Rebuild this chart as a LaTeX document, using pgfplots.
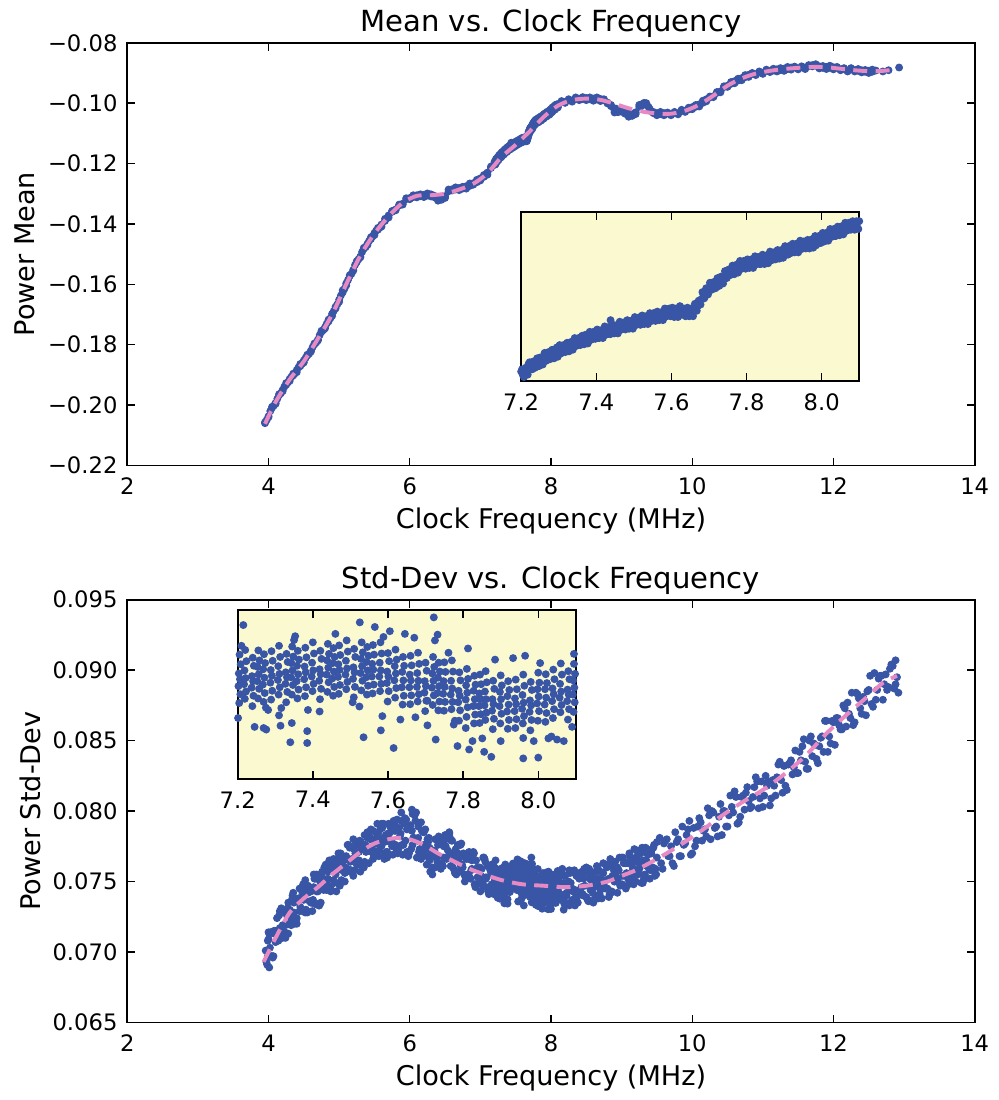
\documentclass[border=0pt]{standalone}
\usepackage{fontspec}
\setmainfont{DejaVu Sans}
\usepackage{pgfplots}
\usepackage{pgfplotstable}
\pgfplotsset{compat=1.18}

\definecolor{dotblue}{RGB}{57,85,165}
\definecolor{fitpink}{RGB}{231,138,195}
\definecolor{insetbg}{RGB}{250,249,207}

\pgfplotsset{
  base/.style={scale only axis, clip mode=individual,
    axis line style={black, line width=0.6pt},
    tick style={black, line width=0.5pt},
    major tick length=2.8pt,
    tick label style={font=\fontsize{8.1}{9}\selectfont},
    /pgf/number format/assume math mode=true,
    scaled y ticks=false,
    xticklabel style={yshift=-1pt}},
  panel/.style={base, width=10.65cm, height=5.3125cm,
    xmin=2, xmax=14, xtick={2,4,6,8,10,12,14},
    xlabel={Clock Frequency (MHz)},
    label style={font=\fontsize{9.7}{11}\selectfont},
    xlabel style={at={(axis description cs:0.5,0)}, anchor=base, yshift=-22.4pt},
    every axis title shift=0pt,
    title style={font=\fontsize{10.4}{12}\selectfont, at={(axis description cs:0.5,1)}, anchor=base, yshift=3.9pt}},
  inset/.style={base, width=4.25cm, height=2.125cm,
    xmin=7.2, xmax=8.1, xtick={7.2,7.4,7.6,7.8,8.0},
    xticklabels={7.2,7.4,7.6,7.8,8.0}, ytick=\empty,
    axis background/.style={fill=insetbg}},
  dots/.style={only marks, mark=*, mark size=1.2pt, color=dotblue,
    mark options={draw=dotblue, fill=dotblue}},
  fit/.style={no marks, color=fitpink, line width=1.4pt, dash pattern=on 5pt off 3pt, smooth},
}

% mean: measurements outside the zoomed window
\pgfplotstableread[row sep=\\]{
x y\\
3.95 -0.2060\\ 4.00 -0.2037\\ 4.05 -0.2009\\ 4.10 -0.1993\\ 4.15 -0.1967\\ 4.20 -0.1950\\
4.25 -0.1933\\ 4.30 -0.1913\\ 4.35 -0.1902\\ 4.40 -0.1884\\ 4.45 -0.1871\\ 4.50 -0.1852\\
4.55 -0.1836\\ 4.60 -0.1820\\ 4.65 -0.1799\\ 4.70 -0.1783\\ 4.75 -0.1757\\ 4.80 -0.1742\\
4.85 -0.1723\\ 4.90 -0.1698\\ 4.95 -0.1680\\ 5.00 -0.1651\\ 5.05 -0.1627\\ 5.10 -0.1597\\
5.15 -0.1573\\ 5.20 -0.1552\\ 5.25 -0.1526\\ 5.30 -0.1508\\ 5.35 -0.1482\\ 5.40 -0.1466\\
5.45 -0.1450\\ 5.50 -0.1430\\ 5.55 -0.1419\\ 5.60 -0.1402\\ 5.65 -0.1390\\ 5.70 -0.1372\\
5.75 -0.1360\\ 5.80 -0.1352\\ 5.85 -0.1339\\ 5.90 -0.1333\\ 5.95 -0.1318\\ 6.00 -0.1314\\
6.05 -0.1311\\ 6.10 -0.1305\\ 6.15 -0.1308\\ 6.20 -0.1304\\ 6.25 -0.1306\\ 6.30 -0.1302\\
6.35 -0.1312\\ 6.40 -0.1318\\ 6.45 -0.1320\\ 6.50 -0.1308\\ 6.55 -0.1292\\ 6.60 -0.1285\\
6.65 -0.1286\\ 6.70 -0.1281\\ 6.75 -0.1283\\ 6.80 -0.1275\\ 6.85 -0.1274\\ 6.90 -0.1265\\
6.95 -0.1262\\ 7.00 -0.1249\\ 7.05 -0.1244\\ 7.10 -0.1230\\ 7.15 -0.1215\\
3.975 -0.2049\\ 4.025 -0.2020\\ 4.075 -0.2002\\ 4.125 -0.1979\\ 4.175 -0.1961\\ 4.225 -0.1939\\
4.275 -0.1925\\ 4.325 -0.1906\\ 4.375 -0.1895\\ 4.425 -0.1875\\ 4.475 -0.1863\\ 4.525 -0.1844\\
4.575 -0.1830\\ 4.625 -0.1808\\ 4.675 -0.1793\\ 4.725 -0.1768\\ 4.775 -0.1752\\ 4.825 -0.1730\\
4.875 -0.1713\\ 4.925 -0.1688\\ 4.975 -0.1666\\ 5.025 -0.1637\\ 5.075 -0.1615\\ 5.125 -0.1586\\
5.175 -0.1565\\ 5.225 -0.1536\\ 5.275 -0.1517\\ 5.325 -0.1493\\ 5.375 -0.1477\\ 5.425 -0.1456\\
5.475 -0.1441\\ 5.525 -0.1422\\ 5.575 -0.1412\\
3.95 -0.2057\\ 4.00 -0.2040\\ 4.05 -0.2006\\ 4.10 -0.1996\\ 4.15 -0.1964\\ 4.20 -0.1954\\
4.25 -0.1927\\ 4.30 -0.1920\\ 4.35 -0.1896\\ 4.40 -0.1891\\ 4.45 -0.1864\\ 4.50 -0.1859\\
4.55 -0.1833\\ 4.60 -0.1823\\ 4.65 -0.1796\\ 4.70 -0.1786\\ 4.75 -0.1754\\ 4.80 -0.1746\\
4.85 -0.1717\\ 4.90 -0.1705\\ 4.95 -0.1674\\ 5.00 -0.1658\\ 5.05 -0.1620\\ 5.10 -0.1604\\
5.15 -0.1570\\ 5.20 -0.1555\\ 5.25 -0.1523\\ 5.30 -0.1511\\ 5.35 -0.1479\\ 5.40 -0.1470\\
5.45 -0.1444\\ 5.50 -0.1437\\ 5.55 -0.1413\\ 5.60 -0.1409\\ 5.65 -0.1383\\ 5.70 -0.1379\\
5.75 -0.1357\\ 5.80 -0.1355\\ 5.85 -0.1336\\ 5.90 -0.1336\\ 5.95 -0.1315\\ 6.00 -0.1318\\
6.05 -0.1305\\ 6.10 -0.1312\\ 6.15 -0.1302\\ 6.20 -0.1311\\ 6.25 -0.1299\\ 6.30 -0.1309\\
6.35 -0.1307\\ 6.40 -0.1323\\ 6.45 -0.1316\\ 6.50 -0.1314\\ 6.55 -0.1286\\ 6.60 -0.1289\\
6.65 -0.1279\\ 6.70 -0.1288\\ 6.75 -0.1277\\ 6.80 -0.1283\\ 6.85 -0.1266\\ 6.90 -0.1270\\
6.95 -0.1254\\ 7.00 -0.1256\\ 7.05 -0.1238\\ 7.10 -0.1237\\ 7.15 -0.1210\\
8.15 -0.0996\\ 8.20 -0.0996\\ 8.25 -0.0990\\ 8.30 -0.0992\\ 8.35 -0.0984\\ 8.40 -0.0986\\
8.45 -0.0986\\ 8.50 -0.0983\\ 8.55 -0.0987\\ 8.60 -0.0985\\ 8.65 -0.0988\\ 8.70 -0.0986\\
8.75 -0.0990\\ 8.80 -0.0998\\ 8.85 -0.1010\\ 8.90 -0.1025\\ 8.95 -0.1030\\ 9.00 -0.1022\\
9.05 -0.1035\\ 9.10 -0.1040\\ 9.15 -0.1042\\ 9.20 -0.1030\\ 9.25 -0.1012\\ 9.30 -0.1002\\
9.35 -0.1005\\ 9.40 -0.1020\\ 9.45 -0.1033\\ 9.50 -0.1033\\ 9.55 -0.1036\\ 9.60 -0.1033\\
9.65 -0.1034\\ 9.70 -0.1037\\ 9.75 -0.1032\\ 9.80 -0.1034\\ 9.85 -0.1025\\ 9.90 -0.1025\\
9.95 -0.1021\\ 10.00 -0.1013\\ 10.05 -0.1012\\ 10.10 -0.1004\\ 10.15 -0.0999\\ 10.20 -0.0987\\
10.25 -0.0981\\ 10.30 -0.0977\\ 10.35 -0.0966\\ 10.40 -0.0961\\ 10.45 -0.0947\\ 10.50 -0.0942\\
10.55 -0.0936\\ 10.60 -0.0927\\ 10.65 -0.0925\\ 10.70 -0.0917\\ 10.75 -0.0914\\ 10.80 -0.0906\\
10.85 -0.0903\\ 10.90 -0.0904\\ 10.95 -0.0898\\ 11.00 -0.0900\\ 11.05 -0.0892\\ 11.10 -0.0893\\
11.15 -0.0892\\ 11.20 -0.0888\\ 11.25 -0.0890\\ 11.30 -0.0886\\ 11.35 -0.0887\\ 11.40 -0.0882\\
11.45 -0.0882\\ 11.50 -0.0885\\ 11.55 -0.0881\\ 11.60 -0.0884\\ 11.65 -0.0877\\ 11.70 -0.0874\\
11.75 -0.0876\\ 11.80 -0.0878\\ 11.85 -0.0883\\ 11.90 -0.0880\\ 11.95 -0.0883\\ 12.00 -0.0881\\
12.05 -0.0883\\ 12.10 -0.0888\\ 12.15 -0.0887\\ 12.20 -0.0892\\ 12.25 -0.0887\\ 12.30 -0.0891\\
12.35 -0.0893\\ 12.40 -0.0891\\ 12.45 -0.0896\\ 12.50 -0.0893\\ 12.55 -0.0896\\ 12.60 -0.0892\\
12.70 -0.0895\\ 12.78 -0.0891\\ 12.93 -0.0882\\
8.92 -0.1018\\ 9.02 -0.1030\\ 9.12 -0.1033\\ 9.28 -0.1010\\ 9.32 -0.0999\\ 9.38 -0.1012\\
8.15 -0.0993\\ 8.20 -0.0999\\ 8.25 -0.0987\\ 8.30 -0.0995\\ 8.35 -0.0981\\ 8.40 -0.0990\\
8.45 -0.0980\\ 8.50 -0.0990\\ 8.55 -0.0981\\ 8.60 -0.0992\\ 8.65 -0.0981\\ 8.70 -0.0993\\
8.75 -0.0987\\ 8.80 -0.1001\\ 8.85 -0.1006\\ 8.90 -0.1031\\ 8.95 -0.1024\\ 9.00 -0.1026\\
9.05 -0.1030\\ 9.10 -0.1045\\ 9.15 -0.1038\\ 9.20 -0.1036\\ 9.25 -0.1006\\ 9.30 -0.1006\\
9.35 -0.1000\\ 9.40 -0.1025\\ 9.45 -0.1029\\ 9.50 -0.1040\\ 9.55 -0.1029\\ 9.60 -0.1040\\
9.65 -0.1031\\ 9.70 -0.1040\\ 9.75 -0.1029\\ 9.80 -0.1037\\ 9.85 -0.1022\\ 9.90 -0.1029\\
9.95 -0.1015\\ 10.00 -0.1020\\ 10.05 -0.1006\\ 10.10 -0.1011\\ 10.15 -0.0992\\ 10.20 -0.0994\\
10.25 -0.0978\\ 10.30 -0.0980\\ 10.35 -0.0963\\ 10.40 -0.0964\\ 10.45 -0.0944\\ 10.50 -0.0946\\
10.55 -0.0930\\ 10.60 -0.0934\\ 10.65 -0.0919\\ 10.70 -0.0924\\ 10.75 -0.0907\\ 10.80 -0.0913\\
10.85 -0.0900\\ 10.90 -0.0907\\ 10.95 -0.0895\\ 11.00 -0.0903\\ 11.05 -0.0889\\ 11.10 -0.0897\\
11.15 -0.0886\\ 11.20 -0.0895\\ 11.25 -0.0884\\ 11.30 -0.0893\\ 11.35 -0.0880\\ 11.40 -0.0889\\
11.45 -0.0879\\ 11.50 -0.0888\\ 11.55 -0.0878\\ 11.60 -0.0887\\ 11.65 -0.0874\\ 11.70 -0.0878\\
11.75 -0.0871\\ 11.80 -0.0885\\ 11.85 -0.0877\\ 11.90 -0.0887\\ 11.95 -0.0876\\ 12.00 -0.0888\\
12.05 -0.0880\\ 12.10 -0.0891\\ 12.15 -0.0884\\ 12.20 -0.0895\\ 12.25 -0.0884\\ 12.30 -0.0895\\
12.35 -0.0887\\ 12.40 -0.0898\\ 12.45 -0.0890\\ 12.50 -0.0900\\ 12.55 -0.0889\\
}\meanmain

% mean: measurements in the zoomed window 7.2 - 8.1 MHz
\pgfplotstableread[row sep=\\]{
x y\\
7.200 -0.1197\\ 7.205 -0.1202\\ 7.210 -0.1195\\ 7.215 -0.1196\\ 7.220 -0.1187\\ 7.225 -0.1191\\
7.230 -0.1194\\ 7.235 -0.1185\\ 7.240 -0.1186\\ 7.245 -0.1187\\ 7.250 -0.1179\\ 7.255 -0.1183\\
7.260 -0.1179\\ 7.265 -0.1183\\ 7.270 -0.1174\\ 7.275 -0.1173\\ 7.280 -0.1179\\ 7.285 -0.1173\\
7.290 -0.1174\\ 7.295 -0.1166\\ 7.300 -0.1171\\ 7.305 -0.1174\\ 7.310 -0.1166\\ 7.315 -0.1167\\
7.320 -0.1169\\ 7.325 -0.1161\\ 7.330 -0.1165\\ 7.335 -0.1161\\ 7.340 -0.1165\\ 7.345 -0.1157\\
7.350 -0.1156\\ 7.355 -0.1162\\ 7.360 -0.1156\\ 7.365 -0.1158\\ 7.370 -0.1150\\ 7.375 -0.1155\\
7.380 -0.1158\\ 7.385 -0.1150\\ 7.390 -0.1151\\ 7.395 -0.1153\\ 7.400 -0.1145\\ 7.405 -0.1150\\
7.410 -0.1147\\ 7.415 -0.1151\\ 7.420 -0.1143\\ 7.425 -0.1142\\ 7.430 -0.1149\\ 7.435 -0.1143\\
7.440 -0.1145\\ 7.445 -0.1137\\ 7.450 -0.1143\\ 7.455 -0.1146\\ 7.460 -0.1138\\ 7.465 -0.1139\\
7.470 -0.1142\\ 7.475 -0.1134\\ 7.480 -0.1139\\ 7.485 -0.1135\\ 7.490 -0.1140\\ 7.495 -0.1132\\
7.500 -0.1131\\ 7.505 -0.1137\\ 7.510 -0.1132\\ 7.515 -0.1134\\ 7.520 -0.1126\\ 7.525 -0.1131\\
7.530 -0.1135\\ 7.535 -0.1127\\ 7.540 -0.1129\\ 7.545 -0.1131\\ 7.550 -0.1123\\ 7.555 -0.1129\\
7.560 -0.1125\\ 7.565 -0.1129\\ 7.570 -0.1122\\ 7.575 -0.1121\\ 7.580 -0.1127\\ 7.585 -0.1121\\
7.590 -0.1124\\ 7.595 -0.1116\\ 7.600 -0.1122\\ 7.605 -0.1126\\ 7.610 -0.1118\\ 7.615 -0.1120\\
7.620 -0.1123\\ 7.625 -0.1116\\ 7.630 -0.1123\\ 7.635 -0.1120\\ 7.640 -0.1125\\ 7.645 -0.1117\\
7.650 -0.1118\\ 7.655 -0.1123\\ 7.660 -0.1117\\ 7.665 -0.1118\\ 7.670 -0.1113\\ 7.675 -0.1106\\
7.680 -0.1104\\ 7.685 -0.1098\\ 7.690 -0.1097\\ 7.695 -0.1091\\ 7.700 -0.1093\\ 7.705 -0.1085\\
7.710 -0.1089\\ 7.715 -0.1085\\ 7.720 -0.1088\\ 7.725 -0.1079\\ 7.730 -0.1077\\ 7.735 -0.1082\\
7.740 -0.1075\\ 7.745 -0.1076\\ 7.750 -0.1067\\ 7.755 -0.1070\\ 7.760 -0.1072\\ 7.765 -0.1064\\
7.770 -0.1065\\ 7.775 -0.1066\\ 7.780 -0.1058\\ 7.785 -0.1063\\ 7.790 -0.1060\\ 7.795 -0.1064\\
7.800 -0.1056\\ 7.805 -0.1055\\ 7.810 -0.1062\\ 7.815 -0.1056\\ 7.820 -0.1058\\ 7.825 -0.1050\\
7.830 -0.1056\\ 7.835 -0.1059\\ 7.840 -0.1052\\ 7.845 -0.1053\\ 7.850 -0.1055\\ 7.855 -0.1048\\
7.860 -0.1053\\ 7.865 -0.1049\\ 7.870 -0.1053\\ 7.875 -0.1046\\ 7.880 -0.1045\\ 7.885 -0.1051\\
7.890 -0.1045\\ 7.895 -0.1047\\ 7.900 -0.1039\\ 7.905 -0.1044\\ 7.910 -0.1047\\ 7.915 -0.1038\\
7.920 -0.1039\\ 7.925 -0.1041\\ 7.930 -0.1034\\ 7.935 -0.1039\\ 7.940 -0.1035\\ 7.945 -0.1040\\
7.950 -0.1032\\ 7.955 -0.1032\\ 7.960 -0.1038\\ 7.965 -0.1032\\ 7.970 -0.1034\\ 7.975 -0.1027\\
7.980 -0.1032\\ 7.985 -0.1035\\ 7.990 -0.1026\\ 7.995 -0.1027\\ 8.000 -0.1029\\ 8.005 -0.1021\\
8.010 -0.1025\\ 8.015 -0.1021\\ 8.020 -0.1025\\ 8.025 -0.1017\\ 8.030 -0.1017\\ 8.035 -0.1023\\
8.040 -0.1017\\ 8.045 -0.1019\\ 8.050 -0.1011\\ 8.055 -0.1015\\ 8.060 -0.1018\\ 8.065 -0.1010\\
8.070 -0.1012\\ 8.075 -0.1014\\ 8.080 -0.1006\\ 8.085 -0.1011\\ 8.090 -0.1007\\ 8.095 -0.1012\\
8.100 -0.1004\\ 7.438 -0.1131\\
7.2025 -0.1194\\ 7.2075 -0.1204\\ 7.2125 -0.1192\\ 7.2175 -0.1201\\ 7.2225 -0.1185\\ 7.2275 -0.1194\\
7.2325 -0.1184\\ 7.2375 -0.1192\\ 7.2425 -0.1180\\ 7.2475 -0.1190\\ 7.2525 -0.1179\\ 7.2575 -0.1188\\
7.2625 -0.1173\\ 7.2675 -0.1183\\ 7.2725 -0.1172\\ 7.2775 -0.1181\\ 7.2825 -0.1169\\ 7.2875 -0.1180\\
7.2925 -0.1168\\ 7.2975 -0.1178\\ 7.3025 -0.1163\\ 7.3075 -0.1173\\ 7.3125 -0.1163\\ 7.3175 -0.1172\\
7.3225 -0.1160\\ 7.3275 -0.1171\\ 7.3325 -0.1159\\ 7.3375 -0.1169\\ 7.3425 -0.1154\\ 7.3475 -0.1164\\
7.3525 -0.1154\\ 7.3575 -0.1163\\ 7.3625 -0.1151\\ 7.3675 -0.1162\\ 7.3725 -0.1151\\ 7.3775 -0.1161\\
7.3825 -0.1146\\ 7.3875 -0.1156\\ 7.3925 -0.1146\\ 7.3975 -0.1155\\ 7.4025 -0.1143\\ 7.4075 -0.1154\\
7.4125 -0.1144\\ 7.4175 -0.1154\\ 7.4225 -0.1139\\ 7.4275 -0.1149\\ 7.4325 -0.1140\\ 7.4375 -0.1149\\
7.4425 -0.1137\\ 7.4475 -0.1148\\ 7.4525 -0.1138\\ 7.4575 -0.1148\\ 7.4625 -0.1133\\ 7.4675 -0.1143\\
7.4725 -0.1134\\ 7.4775 -0.1143\\ 7.4825 -0.1131\\ 7.4875 -0.1142\\ 7.4925 -0.1132\\ 7.4975 -0.1142\\
7.5025 -0.1127\\ 7.5075 -0.1137\\ 7.5125 -0.1128\\ 7.5175 -0.1137\\ 7.5225 -0.1125\\ 7.5275 -0.1136\\
7.5325 -0.1126\\ 7.5375 -0.1136\\ 7.5425 -0.1122\\ 7.5475 -0.1132\\ 7.5525 -0.1122\\ 7.5575 -0.1132\\
7.5625 -0.1120\\ 7.5675 -0.1131\\ 7.5725 -0.1121\\ 7.5775 -0.1131\\ 7.5825 -0.1116\\ 7.5875 -0.1126\\
7.5925 -0.1117\\ 7.5975 -0.1126\\ 7.6025 -0.1115\\ 7.6075 -0.1127\\ 7.6125 -0.1116\\ 7.6175 -0.1127\\
7.6225 -0.1113\\ 7.6275 -0.1124\\ 7.6325 -0.1116\\ 7.6375 -0.1126\\ 7.6425 -0.1115\\ 7.6475 -0.1126\\
7.6525 -0.1116\\ 7.6575 -0.1126\\ 7.6625 -0.1110\\ 7.6675 -0.1119\\ 7.6725 -0.1106\\ 7.6775 -0.1111\\
7.6825 -0.1095\\ 7.6875 -0.1103\\ 7.6925 -0.1090\\ 7.6975 -0.1098\\ 7.7025 -0.1083\\ 7.7075 -0.1092\\
7.7125 -0.1082\\ 7.7175 -0.1090\\ 7.7225 -0.1077\\ 7.7275 -0.1087\\ 7.7325 -0.1075\\ 7.7375 -0.1084\\
7.7425 -0.1068\\ 7.7475 -0.1077\\ 7.7525 -0.1066\\ 7.7575 -0.1073\\ 7.7625 -0.1061\\ 7.7675 -0.1072\\
7.7725 -0.1060\\ 7.7775 -0.1070\\ 7.7825 -0.1055\\ 7.7875 -0.1065\\ 7.7925 -0.1055\\ 7.7975 -0.1065\\
7.8025 -0.1053\\ 7.8075 -0.1064\\ 7.8125 -0.1053\\ 7.8175 -0.1064\\ 7.8225 -0.1049\\ 7.8275 -0.1059\\
7.8325 -0.1050\\ 7.8375 -0.1059\\ 7.8425 -0.1047\\ 7.8475 -0.1059\\ 7.8525 -0.1048\\ 7.8575 -0.1058\\
7.8625 -0.1043\\ 7.8675 -0.1054\\ 7.8725 -0.1044\\ 7.8775 -0.1053\\ 7.8825 -0.1041\\ 7.8875 -0.1052\\
7.8925 -0.1041\\ 7.8975 -0.1051\\ 7.9025 -0.1036\\ 7.9075 -0.1046\\ 7.9125 -0.1036\\ 7.9175 -0.1045\\
7.9225 -0.1033\\ 7.9275 -0.1044\\ 7.9325 -0.1033\\ 7.9375 -0.1044\\ 7.9425 -0.1029\\ 7.9475 -0.1039\\
7.9525 -0.1030\\ 7.9575 -0.1039\\ 7.9625 -0.1028\\ 7.9675 -0.1039\\ 7.9725 -0.1028\\ 7.9775 -0.1038\\
7.9825 -0.1023\\ 7.9875 -0.1033\\ 7.9925 -0.1023\\ 7.9975 -0.1032\\ 8.0025 -0.1019\\ 8.0075 -0.1030\\
8.0125 -0.1019\\ 8.0175 -0.1029\\ 8.0225 -0.1014\\ 8.0275 -0.1024\\ 8.0325 -0.1014\\ 8.0375 -0.1023\\
8.0425 -0.1011\\ 8.0475 -0.1022\\ 8.0525 -0.1011\\ 8.0575 -0.1021\\ 8.0625 -0.1006\\ 8.0675 -0.1016\\
8.0725 -0.1006\\ 8.0775 -0.1015\\ 8.0825 -0.1004\\ 8.0875 -0.1015\\ 8.0925 -0.1004\\ 8.0975 -0.1014\\
}\meaninset

% std-dev: measurements outside the zoomed window
\pgfplotstableread[row sep=\\]{
x y\\
3.96 0.0701\\ 3.98 0.0691\\ 4.00 0.0714\\ 4.02 0.0703\\ 4.04 0.0714\\ 4.06 0.0696\\ 4.08 0.0715\\
4.10 0.0707\\ 4.12 0.0724\\ 4.14 0.0708\\ 4.16 0.0717\\ 4.18 0.0731\\ 4.20 0.0710\\ 4.22 0.0729\\
4.24 0.0719\\ 4.26 0.0726\\ 4.28 0.0713\\ 4.30 0.0730\\ 4.32 0.0719\\ 4.34 0.0740\\ 4.36 0.0728\\
4.38 0.0738\\ 4.40 0.0720\\ 4.42 0.0738\\ 4.44 0.0729\\ 4.46 0.0745\\ 4.48 0.0729\\ 4.50 0.0737\\
4.52 0.0751\\ 4.54 0.0729\\ 4.56 0.0747\\ 4.58 0.0736\\ 4.60 0.0743\\ 4.62 0.0729\\ 4.64 0.0746\\
4.66 0.0734\\ 4.68 0.0755\\ 4.70 0.0743\\ 4.72 0.0753\\ 4.74 0.0735\\ 4.76 0.0753\\ 4.78 0.0744\\
4.80 0.0760\\ 4.82 0.0744\\ 4.84 0.0752\\ 4.86 0.0765\\ 4.88 0.0743\\ 4.90 0.0762\\ 4.92 0.0751\\
4.94 0.0758\\ 4.96 0.0743\\ 4.98 0.0760\\ 5.00 0.0749\\ 5.02 0.0770\\ 5.04 0.0758\\ 5.06 0.0768\\
5.08 0.0750\\ 5.10 0.0768\\ 5.12 0.0759\\ 5.14 0.0775\\ 5.16 0.0758\\ 5.18 0.0766\\ 5.20 0.0780\\
5.22 0.0758\\ 5.24 0.0776\\ 5.26 0.0765\\ 5.28 0.0771\\ 5.30 0.0757\\ 5.32 0.0774\\ 5.34 0.0762\\
5.36 0.0783\\ 5.38 0.0771\\ 5.40 0.0781\\ 5.42 0.0763\\ 5.44 0.0780\\ 5.46 0.0771\\ 5.48 0.0786\\
5.50 0.0770\\ 5.52 0.0777\\ 5.54 0.0791\\ 5.56 0.0768\\ 5.58 0.0787\\ 5.60 0.0775\\ 5.62 0.0781\\
5.64 0.0766\\ 5.66 0.0783\\ 5.68 0.0771\\ 5.70 0.0791\\ 5.72 0.0778\\ 5.74 0.0788\\ 5.76 0.0769\\
5.78 0.0786\\ 5.80 0.0776\\ 5.82 0.0794\\ 5.84 0.0773\\ 5.86 0.0782\\ 5.88 0.0799\\ 5.90 0.0769\\
5.92 0.0793\\ 5.94 0.0779\\ 5.96 0.0787\\ 5.98 0.0768\\ 6.00 0.0789\\ 6.02 0.0773\\ 6.04 0.0798\\
6.06 0.0781\\ 6.08 0.0793\\ 6.10 0.0767\\ 6.12 0.0789\\ 6.14 0.0773\\ 6.16 0.0792\\ 6.18 0.0768\\
6.20 0.0776\\ 6.22 0.0787\\ 6.24 0.0762\\ 6.26 0.0778\\ 6.28 0.0765\\ 6.30 0.0769\\ 6.32 0.0755\\
6.34 0.0771\\ 6.36 0.0760\\ 6.38 0.0780\\ 6.40 0.0768\\ 6.42 0.0778\\ 6.44 0.0759\\ 6.46 0.0777\\
6.48 0.0767\\ 6.50 0.0783\\ 6.52 0.0766\\ 6.54 0.0772\\ 6.56 0.0785\\ 6.58 0.0761\\ 6.60 0.0779\\
6.62 0.0766\\ 6.64 0.0771\\ 6.66 0.0755\\ 6.68 0.0770\\ 6.70 0.0757\\ 6.72 0.0776\\ 6.74 0.0762\\
6.76 0.0770\\ 6.78 0.0750\\ 6.80 0.0766\\ 6.82 0.0755\\ 6.84 0.0770\\ 6.86 0.0752\\ 6.88 0.0759\\
6.90 0.0771\\ 6.92 0.0748\\ 6.94 0.0765\\ 6.96 0.0753\\ 6.98 0.0758\\ 7.00 0.0743\\ 7.02 0.0759\\
7.04 0.0746\\ 7.06 0.0766\\ 7.08 0.0752\\ 7.10 0.0761\\ 7.12 0.0742\\ 7.14 0.0758\\ 7.16 0.0748\\
7.18 0.0762\\
3.97 0.0693\\ 4.01 0.0713\\ 4.05 0.0697\\ 4.09 0.0715\\ 4.13 0.0712\\ 4.17 0.0729\\ 4.21 0.0713\\
4.25 0.0730\\ 4.29 0.0720\\ 4.33 0.0737\\ 4.37 0.0720\\ 4.41 0.0736\\ 4.45 0.0732\\ 4.49 0.0748\\
4.53 0.0730\\ 4.57 0.0746\\ 4.61 0.0735\\ 4.65 0.0752\\ 4.69 0.0734\\ 4.73 0.0750\\ 4.77 0.0746\\
4.81 0.0762\\ 4.85 0.0744\\ 4.89 0.0760\\ 4.93 0.0749\\ 4.97 0.0766\\ 5.01 0.0747\\ 5.05 0.0764\\
5.09 0.0760\\ 5.13 0.0776\\ 5.17 0.0758\\ 5.21 0.0773\\ 5.25 0.0762\\ 5.29 0.0779\\ 5.33 0.0760\\
5.37 0.0776\\ 5.41 0.0772\\ 5.45 0.0787\\ 5.49 0.0769\\ 5.53 0.0784\\ 5.57 0.0772\\ 5.61 0.0788\\
5.65 0.0769\\ 5.69 0.0784\\ 5.73 0.0778\\ 5.77 0.0793\\ 5.81 0.0773\\ 5.85 0.0788\\ 5.89 0.0776\\
5.93 0.0795\\ 5.97 0.0770\\ 6.01 0.0790\\ 6.05 0.0781\\ 6.09 0.0799\\ 6.13 0.0771\\ 6.17 0.0786\\
6.21 0.0769\\ 6.25 0.0780\\ 6.29 0.0757\\ 6.33 0.0772\\ 6.37 0.0767\\ 6.41 0.0782\\ 6.45 0.0763\\
6.49 0.0779\\ 6.53 0.0767\\ 6.57 0.0781\\ 6.61 0.0760\\ 6.65 0.0773\\ 6.69 0.0765\\ 6.73 0.0777\\
6.77 0.0755\\ 6.81 0.0767\\ 6.85 0.0753\\ 6.89 0.0767\\ 6.93 0.0746\\ 6.97 0.0760\\ 7.01 0.0754\\
7.05 0.0767\\ 7.09 0.0746\\ 7.13 0.0760\\ 7.17 0.0747\\
3.99 0.0697\\ 4.03 0.0714\\ 4.07 0.0697\\ 4.11 0.0714\\ 4.15 0.0726\\ 4.19 0.0716\\ 4.23 0.0714\\
4.27 0.0731\\ 4.31 0.0727\\ 4.35 0.0742\\ 4.39 0.0723\\ 4.43 0.0738\\ 4.47 0.0730\\ 4.51 0.0746\\
4.55 0.0728\\ 4.59 0.0743\\ 4.63 0.0737\\ 4.67 0.0752\\ 4.71 0.0733\\ 4.75 0.0748\\ 4.79 0.0760\\
4.83 0.0748\\ 4.87 0.0745\\ 4.91 0.0760\\ 4.95 0.0755\\ 4.99 0.0770\\ 5.03 0.0751\\ 5.07 0.0765\\
5.11 0.0757\\ 5.15 0.0774\\ 5.19 0.0756\\ 5.23 0.0770\\ 5.27 0.0764\\ 5.31 0.0778\\ 5.35 0.0760\\
5.39 0.0775\\ 5.43 0.0785\\ 5.47 0.0773\\ 5.51 0.0769\\ 5.55 0.0784\\ 5.59 0.0778\\ 5.63 0.0791\\
5.67 0.0771\\ 5.71 0.0784\\ 5.75 0.0775\\ 5.79 0.0790\\ 5.83 0.0770\\ 5.87 0.0784\\ 5.91 0.0776\\
5.95 0.0794\\ 5.99 0.0770\\ 6.03 0.0786\\ 6.07 0.0797\\ 6.11 0.0779\\ 6.15 0.0770\\ 6.19 0.0785\\
6.23 0.0773\\ 6.27 0.0781\\ 6.31 0.0758\\ 6.35 0.0772\\ 6.39 0.0764\\ 6.43 0.0780\\ 6.47 0.0761\\
6.51 0.0775\\ 6.55 0.0767\\ 6.59 0.0779\\ 6.63 0.0758\\ 6.67 0.0769\\ 6.71 0.0776\\ 6.75 0.0760\\
6.79 0.0753\\ 6.83 0.0766\\ 6.87 0.0758\\ 6.91 0.0770\\ 6.95 0.0748\\ 6.99 0.0760\\ 7.03 0.0749\\
7.07 0.0764\\ 7.11 0.0743\\ 7.15 0.0755\\ 7.19 0.0747\\
4.00 0.0709\\ 4.04 0.0697\\ 4.08 0.0713\\ 4.12 0.0708\\ 4.16 0.0729\\ 4.20 0.0719\\ 4.24 0.0710\\
4.28 0.0735\\ 4.32 0.0724\\ 4.36 0.0735\\ 4.40 0.0724\\ 4.44 0.0745\\ 4.48 0.0742\\ 4.52 0.0728\\
4.56 0.0742\\ 4.60 0.0735\\ 4.64 0.0755\\ 4.68 0.0743\\ 4.72 0.0733\\ 4.76 0.0757\\ 4.80 0.0746\\
4.84 0.0757\\ 4.88 0.0745\\ 4.92 0.0766\\ 4.96 0.0762\\ 5.00 0.0748\\ 5.04 0.0763\\ 5.08 0.0756\\
5.12 0.0776\\ 5.16 0.0764\\ 5.20 0.0754\\ 5.24 0.0777\\ 5.28 0.0765\\ 5.32 0.0776\\ 5.36 0.0764\\
5.40 0.0785\\ 5.44 0.0781\\ 5.48 0.0766\\ 5.52 0.0780\\ 5.56 0.0772\\ 5.60 0.0791\\ 5.64 0.0778\\
5.68 0.0767\\ 5.72 0.0789\\ 5.76 0.0777\\ 5.80 0.0786\\ 5.84 0.0774\\ 5.88 0.0793\\ 5.92 0.0791\\
5.96 0.0771\\ 6.00 0.0789\\ 6.04 0.0776\\ 6.08 0.0799\\ 6.12 0.0781\\ 6.16 0.0766\\ 6.20 0.0785\\
6.24 0.0768\\ 6.28 0.0774\\ 6.32 0.0760\\ 6.36 0.0780\\ 6.40 0.0776\\ 6.44 0.0761\\ 6.48 0.0775\\
6.52 0.0767\\ 6.56 0.0784\\ 6.60 0.0770\\ 6.64 0.0756\\ 6.68 0.0776\\ 6.72 0.0761\\ 6.76 0.0768\\
6.80 0.0753\\ 6.84 0.0771\\ 6.88 0.0765\\ 6.92 0.0748\\ 6.96 0.0760\\ 7.00 0.0750\\ 7.04 0.0767\\
7.08 0.0753\\ 7.12 0.0741\\ 7.16 0.0762\\
6.03 0.0801\\ 4.01 0.0689\\ 3.99 0.0708\\ 8.18 0.0730\\
8.12 0.0740\\ 8.14 0.0747\\ 8.16 0.0759\\ 8.18 0.0736\\ 8.20 0.0754\\ 8.22 0.0742\\ 8.24 0.0748\\
8.26 0.0733\\ 8.28 0.0749\\ 8.30 0.0737\\ 8.32 0.0757\\ 8.34 0.0744\\ 8.36 0.0754\\ 8.38 0.0735\\
8.40 0.0752\\ 8.42 0.0742\\ 8.44 0.0757\\ 8.46 0.0740\\ 8.48 0.0747\\ 8.50 0.0760\\ 8.52 0.0737\\
8.54 0.0756\\ 8.56 0.0744\\ 8.58 0.0750\\ 8.60 0.0735\\ 8.62 0.0751\\ 8.64 0.0740\\ 8.66 0.0760\\
8.68 0.0747\\ 8.70 0.0757\\ 8.72 0.0738\\ 8.74 0.0756\\ 8.76 0.0746\\ 8.78 0.0762\\ 8.80 0.0745\\
8.82 0.0752\\ 8.84 0.0766\\ 8.86 0.0743\\ 8.88 0.0762\\ 8.90 0.0750\\ 8.92 0.0756\\ 8.94 0.0742\\
8.96 0.0758\\ 8.98 0.0747\\ 9.00 0.0767\\ 9.02 0.0754\\ 9.04 0.0764\\ 9.06 0.0745\\ 9.08 0.0763\\
9.10 0.0753\\ 9.12 0.0768\\ 9.14 0.0752\\ 9.16 0.0759\\ 9.18 0.0773\\ 9.20 0.0750\\ 9.22 0.0768\\
9.24 0.0757\\ 9.26 0.0763\\ 9.28 0.0749\\ 9.30 0.0765\\ 9.32 0.0753\\ 9.34 0.0774\\ 9.36 0.0761\\
9.38 0.0771\\ 9.40 0.0752\\ 9.42 0.0770\\ 9.44 0.0760\\ 9.46 0.0776\\ 9.48 0.0759\\ 9.50 0.0767\\
8.13 0.0741\\ 8.17 0.0755\\ 8.21 0.0735\\ 8.25 0.0750\\ 8.29 0.0744\\ 8.33 0.0758\\ 8.37 0.0739\\
8.41 0.0753\\ 8.45 0.0741\\ 8.49 0.0756\\ 8.53 0.0736\\ 8.57 0.0752\\ 8.61 0.0746\\ 8.65 0.0761\\
8.69 0.0741\\ 8.73 0.0756\\ 8.77 0.0745\\ 8.81 0.0761\\ 8.85 0.0742\\ 8.89 0.0758\\ 8.93 0.0752\\
8.97 0.0767\\ 9.01 0.0748\\ 9.05 0.0763\\ 9.09 0.0752\\ 9.13 0.0767\\ 9.17 0.0748\\ 9.21 0.0764\\
9.25 0.0759\\ 9.29 0.0774\\ 9.33 0.0755\\ 9.37 0.0769\\ 9.41 0.0758\\ 9.45 0.0774\\ 9.49 0.0755\\
8.11 0.0742\\ 8.15 0.0754\\ 8.19 0.0734\\ 8.23 0.0747\\ 8.27 0.0756\\ 8.31 0.0743\\ 8.35 0.0739\\
8.39 0.0753\\ 8.43 0.0746\\ 8.47 0.0759\\ 8.51 0.0738\\ 8.55 0.0752\\ 8.59 0.0742\\ 8.63 0.0757\\
8.67 0.0738\\ 8.71 0.0752\\ 8.75 0.0746\\ 8.79 0.0760\\ 8.83 0.0741\\ 8.87 0.0754\\ 8.91 0.0764\\
8.95 0.0752\\ 8.99 0.0748\\ 9.03 0.0763\\ 9.07 0.0756\\ 9.11 0.0770\\ 9.15 0.0750\\ 9.19 0.0764\\
9.23 0.0755\\ 9.27 0.0770\\ 9.31 0.0751\\ 9.35 0.0765\\ 9.39 0.0759\\ 9.43 0.0773\\ 9.47 0.0754\\
8.10 0.0753\\ 8.14 0.0737\\ 8.18 0.0749\\ 8.22 0.0740\\ 8.26 0.0758\\ 8.30 0.0745\\ 8.34 0.0733\\
8.38 0.0756\\ 8.42 0.0743\\ 8.46 0.0752\\ 8.50 0.0739\\ 8.54 0.0759\\ 8.58 0.0754\\ 8.62 0.0738\\
8.66 0.0752\\ 8.70 0.0744\\ 8.74 0.0763\\ 8.78 0.0751\\ 8.82 0.0739\\ 8.86 0.0762\\ 8.90 0.0750\\
8.94 0.0760\\ 8.98 0.0748\\ 9.02 0.0767\\ 9.06 0.0763\\ 9.10 0.0748\\ 9.14 0.0762\\ 9.18 0.0754\\
9.22 0.0772\\ 9.26 0.0760\\ 9.30 0.0749\\ 9.34 0.0772\\ 9.38 0.0760\\ 9.42 0.0770\\ 9.46 0.0758\\
9.50 0.0778\\
9.54 0.0781\\ 9.58 0.0759\\ 9.62 0.0779\\ 9.66 0.0768\\ 9.70 0.0775\\ 9.74 0.0761\\ 9.78 0.0778\\
9.82 0.0768\\ 9.86 0.0789\\ 9.90 0.0777\\ 9.94 0.0787\\ 9.98 0.0769\\ 10.02 0.0788\\ 10.06 0.0779\\
10.10 0.0795\\ 10.14 0.0779\\ 10.18 0.0787\\ 10.22 0.0802\\ 10.26 0.0780\\ 10.30 0.0799\\ 10.34 0.0789\\
10.38 0.0796\\ 10.42 0.0783\\ 10.46 0.0800\\ 10.50 0.0789\\ 10.54 0.0811\\ 10.58 0.0799\\ 10.62 0.0810\\
10.66 0.0792\\ 10.70 0.0810\\ 10.74 0.0801\\ 10.78 0.0817\\ 10.82 0.0802\\ 10.86 0.0810\\ 10.90 0.0824\\
10.94 0.0802\\ 10.98 0.0821\\ 11.02 0.0811\\ 11.06 0.0818\\ 11.10 0.0804\\ 11.14 0.0822\\ 11.18 0.0811\\
11.22 0.0833\\ 11.26 0.0822\\ 11.30 0.0832\\ 11.34 0.0815\\ 11.38 0.0834\\ 11.42 0.0826\\ 11.46 0.0843\\
11.50 0.0827\\ 11.54 0.0836\\ 11.58 0.0851\\ 11.62 0.0830\\ 11.66 0.0850\\ 11.70 0.0839\\ 11.74 0.0847\\
11.78 0.0834\\ 11.82 0.0852\\ 11.86 0.0842\\ 11.90 0.0864\\ 11.94 0.0853\\ 11.98 0.0864\\ 12.02 0.0847\\
12.06 0.0866\\ 12.10 0.0858\\ 12.14 0.0875\\ 12.18 0.0860\\ 12.22 0.0869\\ 12.26 0.0884\\ 12.30 0.0863\\
12.34 0.0883\\ 12.38 0.0873\\ 12.42 0.0881\\ 12.46 0.0868\\ 12.50 0.0886\\ 12.54 0.0876\\ 12.58 0.0898\\
12.62 0.0886\\ 12.66 0.0896\\ 12.70 0.0879\\ 12.74 0.0897\\ 12.78 0.0888\\ 12.82 0.0904\\ 12.86 0.0887\\
12.90 0.0895\\ 12.88 0.0907\\
9.56 0.0763\\ 9.64 0.0780\\ 9.72 0.0763\\ 9.80 0.0780\\ 9.88 0.0776\\ 9.96 0.0793\\ 10.04 0.0775\\
10.12 0.0792\\ 10.20 0.0782\\ 10.28 0.0800\\ 10.36 0.0782\\ 10.44 0.0800\\ 10.52 0.0797\\ 10.60 0.0814\\
10.68 0.0796\\ 10.76 0.0813\\ 10.84 0.0803\\ 10.92 0.0821\\ 11.00 0.0803\\ 11.08 0.0821\\ 11.16 0.0818\\
11.24 0.0835\\ 11.32 0.0818\\ 11.40 0.0836\\ 11.48 0.0827\\ 11.56 0.0846\\ 11.64 0.0830\\ 11.72 0.0848\\
11.80 0.0846\\ 11.88 0.0864\\ 11.96 0.0848\\ 12.04 0.0866\\ 12.12 0.0858\\ 12.20 0.0877\\ 12.28 0.0861\\
12.36 0.0880\\ 12.44 0.0878\\ 12.52 0.0896\\ 12.60 0.0879\\ 12.68 0.0896\\ 12.76 0.0886\\ 12.84 0.0903\\
12.92 0.0884\\
9.60 0.0777\\ 9.68 0.0768\\ 9.76 0.0785\\ 9.84 0.0768\\ 9.92 0.0783\\ 10.00 0.0770\\ 10.08 0.0789\\
10.16 0.0786\\ 10.24 0.0797\\ 10.32 0.0788\\ 10.40 0.0805\\ 10.48 0.0789\\ 10.56 0.0803\\ 10.64 0.0791\\
10.72 0.0811\\ 10.80 0.0807\\ 10.88 0.0817\\ 10.96 0.0809\\ 11.04 0.0825\\ 11.12 0.0809\\ 11.20 0.0824\\
11.28 0.0813\\ 11.36 0.0833\\ 11.44 0.0831\\ 11.52 0.0842\\ 11.60 0.0835\\ 11.68 0.0853\\ 11.76 0.0837\\
11.84 0.0853\\ 11.92 0.0842\\ 12.00 0.0863\\ 12.08 0.0861\\ 12.16 0.0873\\ 12.24 0.0866\\ 12.32 0.0884\\
12.40 0.0869\\ 12.48 0.0885\\ 12.56 0.0874\\ 12.64 0.0894\\ 12.72 0.0890\\ 12.80 0.0901\\ 12.88 0.0890\\
}\sdmain

% std-dev: measurements in the zoomed window 7.2 - 8.1 MHz
\pgfplotstableread[row sep=\\]{
x y\\
7.205 0.07573\\ 7.208 0.07548\\ 7.203 0.07524\\ 7.206 0.07509\\ 7.202 0.07491\\ 7.207 0.07470\\ 7.204 0.07447\\
7.220 0.07585\\ 7.223 0.07556\\ 7.218 0.07532\\ 7.221 0.07512\\ 7.217 0.07496\\ 7.222 0.07477\\ 7.219 0.07458\\
7.240 0.07565\\ 7.243 0.07544\\ 7.238 0.07517\\ 7.241 0.07504\\ 7.237 0.07487\\ 7.242 0.07466\\ 7.239 0.07439\\
7.255 0.07584\\ 7.258 0.07558\\ 7.253 0.07541\\ 7.256 0.07522\\ 7.252 0.07504\\ 7.257 0.07484\\ 7.254 0.07459\\
7.270 0.07574\\ 7.273 0.07551\\ 7.268 0.07535\\ 7.271 0.07513\\ 7.267 0.07495\\ 7.272 0.07473\\ 7.269 0.07450\\
7.290 0.07582\\ 7.293 0.07557\\ 7.288 0.07533\\ 7.291 0.07518\\ 7.287 0.07500\\ 7.292 0.07479\\ 7.289 0.07456\\
7.310 0.07596\\ 7.313 0.07567\\ 7.308 0.07543\\ 7.311 0.07523\\ 7.307 0.07507\\ 7.312 0.07488\\ 7.309 0.07469\\
7.330 0.07575\\ 7.333 0.07554\\ 7.328 0.07527\\ 7.331 0.07514\\ 7.327 0.07497\\ 7.332 0.07476\\ 7.329 0.07449\\
7.345 0.07594\\ 7.348 0.07568\\ 7.343 0.07551\\ 7.346 0.07532\\ 7.342 0.07514\\ 7.347 0.07494\\ 7.344 0.07469\\
7.360 0.07583\\ 7.363 0.07560\\ 7.358 0.07544\\ 7.361 0.07522\\ 7.357 0.07504\\ 7.362 0.07482\\ 7.359 0.07459\\
7.380 0.07591\\ 7.383 0.07566\\ 7.378 0.07542\\ 7.381 0.07527\\ 7.377 0.07509\\ 7.382 0.07488\\ 7.379 0.07465\\
7.400 0.07605\\ 7.403 0.07576\\ 7.398 0.07552\\ 7.401 0.07532\\ 7.397 0.07516\\ 7.402 0.07497\\ 7.399 0.07478\\
7.420 0.07583\\ 7.423 0.07562\\ 7.418 0.07535\\ 7.421 0.07522\\ 7.417 0.07505\\ 7.422 0.07484\\ 7.419 0.07457\\
7.440 0.07601\\ 7.443 0.07575\\ 7.438 0.07558\\ 7.441 0.07539\\ 7.437 0.07521\\ 7.442 0.07501\\ 7.439 0.07476\\
7.455 0.07590\\ 7.458 0.07567\\ 7.453 0.07551\\ 7.456 0.07529\\ 7.452 0.07511\\ 7.457 0.07489\\ 7.454 0.07466\\
7.470 0.07597\\ 7.473 0.07572\\ 7.468 0.07548\\ 7.471 0.07533\\ 7.467 0.07515\\ 7.472 0.07494\\ 7.469 0.07471\\
7.490 0.07610\\ 7.493 0.07581\\ 7.488 0.07557\\ 7.491 0.07537\\ 7.487 0.07521\\ 7.492 0.07502\\ 7.489 0.07483\\
7.510 0.07588\\ 7.513 0.07567\\ 7.508 0.07540\\ 7.511 0.07527\\ 7.507 0.07510\\ 7.512 0.07489\\ 7.509 0.07462\\
7.530 0.07605\\ 7.533 0.07579\\ 7.528 0.07562\\ 7.531 0.07543\\ 7.527 0.07525\\ 7.532 0.07505\\ 7.529 0.07480\\
7.545 0.07593\\ 7.548 0.07570\\ 7.543 0.07554\\ 7.546 0.07532\\ 7.542 0.07514\\ 7.547 0.07492\\ 7.544 0.07469\\
7.560 0.07598\\ 7.563 0.07573\\ 7.558 0.07549\\ 7.561 0.07534\\ 7.557 0.07516\\ 7.562 0.07495\\ 7.559 0.07472\\
7.580 0.07605\\ 7.583 0.07576\\ 7.578 0.07552\\ 7.581 0.07532\\ 7.577 0.07516\\ 7.582 0.07497\\ 7.579 0.07478\\
7.600 0.07577\\ 7.603 0.07556\\ 7.598 0.07529\\ 7.601 0.07516\\ 7.597 0.07499\\ 7.602 0.07478\\ 7.599 0.07451\\
7.620 0.07586\\ 7.623 0.07560\\ 7.618 0.07543\\ 7.621 0.07524\\ 7.617 0.07506\\ 7.622 0.07486\\ 7.619 0.07461\\
7.640 0.07567\\ 7.643 0.07544\\ 7.638 0.07528\\ 7.641 0.07506\\ 7.637 0.07488\\ 7.642 0.07466\\ 7.639 0.07443\\
7.660 0.07570\\ 7.663 0.07545\\ 7.658 0.07521\\ 7.661 0.07506\\ 7.657 0.07488\\ 7.662 0.07467\\ 7.659 0.07444\\
7.680 0.07578\\ 7.683 0.07549\\ 7.678 0.07525\\ 7.681 0.07505\\ 7.677 0.07489\\ 7.682 0.07470\\ 7.679 0.07451\\
7.700 0.07552\\ 7.703 0.07531\\ 7.698 0.07504\\ 7.701 0.07491\\ 7.697 0.07474\\ 7.702 0.07453\\ 7.699 0.07426\\
7.720 0.07567\\ 7.723 0.07541\\ 7.718 0.07524\\ 7.721 0.07505\\ 7.717 0.07487\\ 7.722 0.07467\\ 7.719 0.07442\\
7.735 0.07552\\ 7.738 0.07529\\ 7.733 0.07513\\ 7.736 0.07491\\ 7.732 0.07473\\ 7.737 0.07451\\ 7.734 0.07428\\
7.750 0.07553\\ 7.753 0.07528\\ 7.748 0.07504\\ 7.751 0.07489\\ 7.747 0.07471\\ 7.752 0.07450\\ 7.749 0.07427\\
7.770 0.07558\\ 7.773 0.07529\\ 7.768 0.07505\\ 7.771 0.07485\\ 7.767 0.07469\\ 7.772 0.07450\\ 7.769 0.07431\\
7.790 0.07527\\ 7.793 0.07506\\ 7.788 0.07479\\ 7.791 0.07466\\ 7.787 0.07449\\ 7.792 0.07428\\ 7.789 0.07401\\
7.810 0.07536\\ 7.813 0.07510\\ 7.808 0.07493\\ 7.811 0.07474\\ 7.807 0.07456\\ 7.812 0.07436\\ 7.809 0.07411\\
7.830 0.07518\\ 7.833 0.07495\\ 7.828 0.07479\\ 7.831 0.07457\\ 7.827 0.07439\\ 7.832 0.07417\\ 7.829 0.07394\\
7.845 0.07521\\ 7.848 0.07496\\ 7.843 0.07472\\ 7.846 0.07457\\ 7.842 0.07439\\ 7.847 0.07418\\ 7.844 0.07395\\
7.860 0.07530\\ 7.863 0.07501\\ 7.858 0.07477\\ 7.861 0.07457\\ 7.857 0.07441\\ 7.862 0.07422\\ 7.859 0.07403\\
7.880 0.07505\\ 7.883 0.07484\\ 7.878 0.07457\\ 7.881 0.07444\\ 7.877 0.07427\\ 7.882 0.07406\\ 7.879 0.07379\\
7.900 0.07519\\ 7.903 0.07493\\ 7.898 0.07476\\ 7.901 0.07457\\ 7.897 0.07439\\ 7.902 0.07419\\ 7.899 0.07394\\
7.920 0.07504\\ 7.923 0.07481\\ 7.918 0.07465\\ 7.921 0.07443\\ 7.917 0.07425\\ 7.922 0.07403\\ 7.919 0.07380\\
7.940 0.07508\\ 7.943 0.07483\\ 7.938 0.07459\\ 7.941 0.07444\\ 7.937 0.07426\\ 7.942 0.07405\\ 7.939 0.07382\\
7.960 0.07521\\ 7.963 0.07492\\ 7.958 0.07468\\ 7.961 0.07448\\ 7.957 0.07432\\ 7.962 0.07413\\ 7.959 0.07394\\
7.980 0.07502\\ 7.983 0.07481\\ 7.978 0.07454\\ 7.981 0.07441\\ 7.977 0.07424\\ 7.982 0.07403\\ 7.979 0.07376\\
8.000 0.07526\\ 8.003 0.07500\\ 7.998 0.07483\\ 8.001 0.07464\\ 7.997 0.07446\\ 8.002 0.07426\\ 7.999 0.07401\\
8.020 0.07522\\ 8.023 0.07499\\ 8.018 0.07483\\ 8.021 0.07461\\ 8.017 0.07443\\ 8.022 0.07421\\ 8.019 0.07398\\
8.040 0.07534\\ 8.043 0.07509\\ 8.038 0.07485\\ 8.041 0.07470\\ 8.037 0.07452\\ 8.042 0.07431\\ 8.039 0.07408\\
8.060 0.07550\\ 8.063 0.07521\\ 8.058 0.07497\\ 8.061 0.07477\\ 8.057 0.07461\\ 8.062 0.07442\\ 8.059 0.07423\\
8.080 0.07530\\ 8.083 0.07509\\ 8.078 0.07482\\ 8.081 0.07469\\ 8.077 0.07452\\ 8.082 0.07431\\ 8.079 0.07404\\
8.095 0.07549\\ 8.098 0.07523\\ 8.093 0.07506\\ 8.096 0.07487\\ 8.092 0.07469\\ 8.097 0.07449\\ 8.094 0.07424\\
7.215 0.07650\\ 7.210 0.07596\\ 7.245 0.07385\\ 7.275 0.07435\\ 7.31 0.07415\\ 7.34 0.07345\\
7.35 0.07611\\ 7.385 0.07374\\ 7.385 0.07343\\ 7.46 0.07627\\ 7.525 0.07657\\ 7.535 0.07358\\
7.565 0.07645\\ 7.585 0.07413\\ 7.615 0.07330\\ 7.645 0.07627\\ 7.705 0.07389\\ 7.722 0.07670\\
7.725 0.07610\\ 7.775 0.07391\\ 7.785 0.07335\\ 7.813 0.07589\\ 7.825 0.07348\\ 7.875 0.07307\\
7.885 0.07560\\ 7.96 0.07303\\ 7.965 0.07570\\ 8.00 0.07305\\ 8.005 0.07551\\ 8.035 0.07360\\
8.095 0.07575\\
7.269 0.07382\\ 7.314 0.07388\\ 7.353 0.07621\\ 7.418 0.07425\\ 7.506 0.07449\\ 7.524 0.07438\\
7.581 0.07376\\ 7.588 0.07619\\ 7.605 0.07634\\ 7.633 0.07404\\ 7.670 0.07617\\ 7.673 0.07410\\
7.705 0.07453\\ 7.727 0.07352\\ 7.732 0.07625\\ 7.761 0.07578\\ 7.778 0.07401\\ 7.807 0.07382\\
7.816 0.07326\\ 7.851 0.07355\\ 7.856 0.07320\\ 7.900 0.07348\\ 7.933 0.07564\\ 7.960 0.07356\\
7.988 0.07348\\ 8.027 0.07355\\ 8.050 0.07352\\ 8.068 0.07348\\ 8.090 0.07385\\ 7.201 0.07408\\
7.281 0.07429\\ 7.276 0.07378\\ 7.316 0.07434\\ 7.344 0.07395\\ 7.387 0.07429\\
}\sdinset

\begin{document}
\begin{tikzpicture}
\path (0,0) rectangle (12.5cm,-13.75cm);

% ---- mean panel ----
\begin{axis}[panel, at={(1.6cm,-5.85cm)}, anchor=south west,
  title={Mean vs. Clock Frequency}, ylabel={Power Mean},
  ylabel style={at={(axis description cs:-0.121,0.5)}, anchor=center},
  ymin=-0.22, ymax=-0.08,
  ytick={-0.22,-0.20,-0.18,-0.16,-0.14,-0.12,-0.10,-0.08},
  yticklabels={−0.22,−0.20,−0.18,−0.16,−0.14,−0.12,−0.10,−0.08}]
\addplot[dots] table {\meanmain};
\addplot[dots] table {\meaninset};
\addplot[fit] coordinates {
 (3.95,-0.2062) (4.1,-0.1990) (4.3,-0.1915) (4.5,-0.1855) (4.7,-0.1780) (4.9,-0.1700)
 (5.1,-0.1600) (5.3,-0.1505) (5.5,-0.1432) (5.7,-0.1375) (5.9,-0.1330) (6.1,-0.1307)
 (6.3,-0.1305) (6.5,-0.1300) (6.7,-0.1286) (6.9,-0.1267) (7.1,-0.1232) (7.3,-0.1178)
 (7.5,-0.1138) (7.7,-0.1093) (7.9,-0.1045) (8.1,-0.1008) (8.3,-0.0990) (8.5,-0.0985)
 (8.7,-0.0989) (8.9,-0.1002) (9.1,-0.1017) (9.3,-0.1028) (9.5,-0.1034) (9.7,-0.1035)
 (9.9,-0.1025) (10.1,-0.1005) (10.3,-0.0975) (10.5,-0.0942) (10.7,-0.0918) (10.9,-0.0902)
 (11.1,-0.0893) (11.3,-0.0887) (11.5,-0.0883) (11.7,-0.0880) (11.9,-0.0881) (12.1,-0.0886)
 (12.3,-0.0891) (12.5,-0.0894) (12.7,-0.0893) (12.9,-0.0888)};
\end{axis}

\begin{axis}[inset, at={(6.55cm,-4.7875cm)}, anchor=south west,
  ymin=-0.1209, ymax=-0.0992]
\addplot[dots] table {\meaninset};
\end{axis}

% ---- std-dev panel ----
\begin{axis}[panel, at={(1.6cm,-12.85cm)}, anchor=south west,
  title={Std-Dev vs. Clock Frequency}, ylabel={Power Std-Dev},
  ylabel style={at={(axis description cs:-0.114,0.5)}, anchor=center},
  ymin=0.065, ymax=0.095,
  ytick={0.065,0.070,0.075,0.080,0.085,0.090,0.095},
  yticklabels={0.065,0.070,0.075,0.080,0.085,0.090,0.095}]
\addplot[dots] table {\sdmain};
\addplot[dots] table {\sdinset};
\addplot[fit] coordinates {
 (3.93,0.0693) (4.1,0.0710) (4.3,0.0728) (4.5,0.0738) (4.7,0.0746) (4.9,0.0755)
 (5.1,0.0763) (5.3,0.0771) (5.5,0.0777) (5.7,0.0780) (5.85,0.0781) (6.0,0.0780)
 (6.2,0.0776) (6.4,0.0770) (6.6,0.0765) (6.8,0.0760) (7.0,0.0756) (7.3,0.0751)
 (7.6,0.0748) (7.9,0.0747) (8.2,0.0746) (8.5,0.0747) (8.8,0.0750) (9.0,0.0754)
 (9.2,0.0758) (9.5,0.0766) (9.8,0.0775) (10.1,0.0785) (10.4,0.0796) (10.7,0.0806)
 (11.0,0.0815) (11.3,0.0826) (11.6,0.0839) (11.9,0.0855) (12.2,0.0869) (12.5,0.0882)
 (12.7,0.0891) (12.9,0.0896)};
\end{axis}

\begin{axis}[inset, at={(2.9875cm,-9.7875cm)}, anchor=south west,
  ymin=0.0725, ymax=0.0769]
\addplot[dots] table {\sdinset};
\end{axis}
\end{tikzpicture}
\end{document}
